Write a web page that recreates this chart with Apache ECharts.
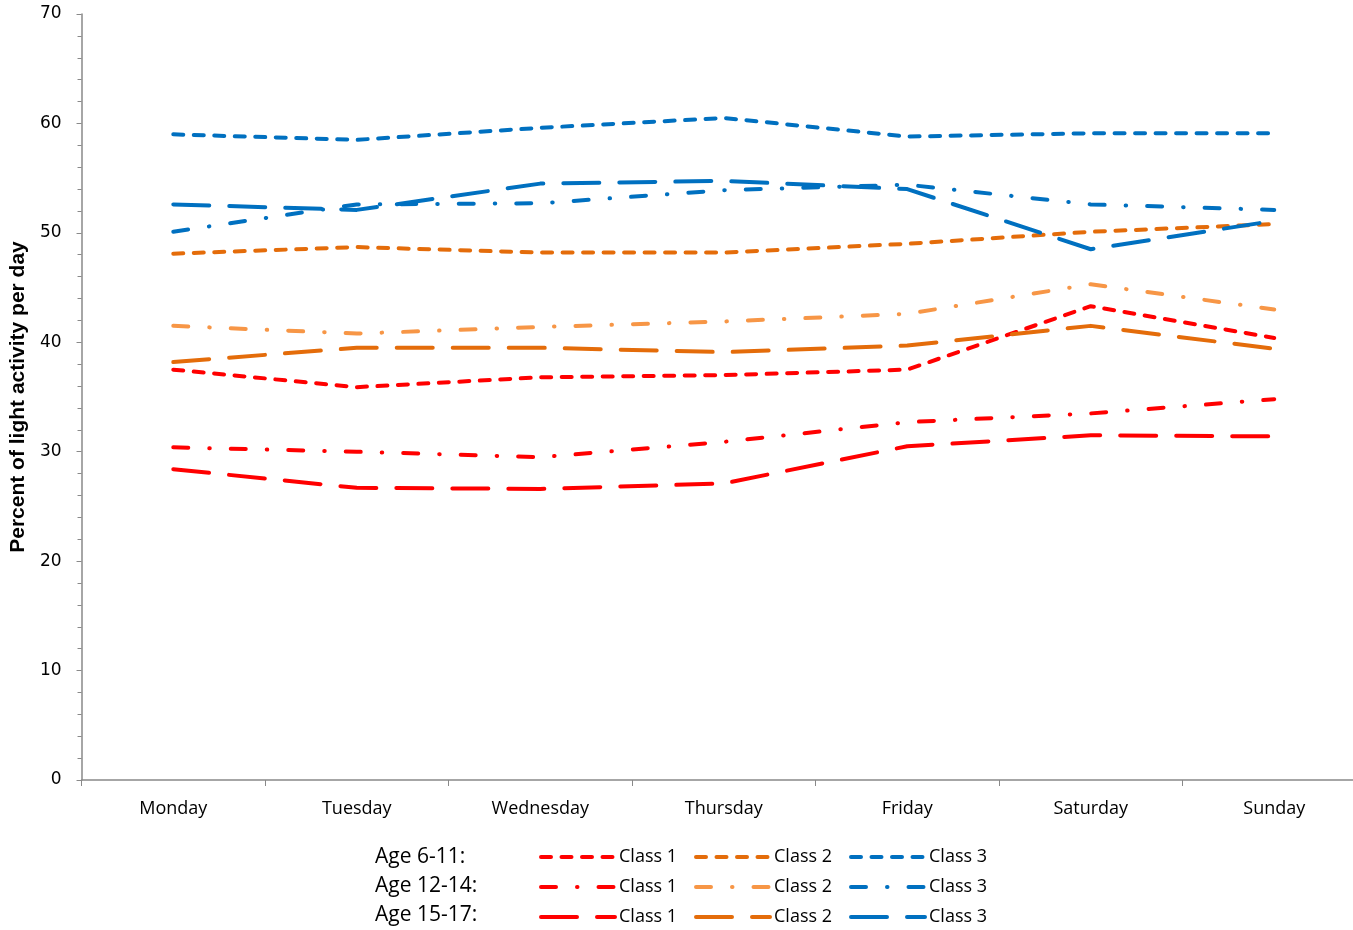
<!DOCTYPE html>
<html>
<head>
<meta charset="utf-8">
<script src="https://cdn.jsdelivr.net/npm/echarts@6/dist/echarts.min.js"></script>
<style>html,body{margin:0;padding:0;background:#fff;overflow:hidden;width:1353px;height:930px}#c{width:1366px;height:930px}</style>
</head>
<body>
<div id="c"></div>
<script>
var days = ['Monday','Tuesday','Wednesday','Thursday','Friday','Saturday','Sunday'];
var yTicks = [0,10,20,30,40,50,60,70];
var ageGroups = ['Age 6-11:','Age 12-14:','Age 15-17:'];
var classNames = ['Class 1','Class 2','Class 3'];

var age611_c1 = [37.5, 35.9, 36.8, 37.0, 37.5, 43.3, 40.4];
var age611_c2 = [48.1, 48.7, 48.2, 48.2, 49.0, 50.1, 50.8];
var age611_c3 = [59.0, 58.5, 59.6, 60.5, 58.8, 59.1, 59.1];
var age1214_c1 = [30.4, 30.0, 29.5, 30.9, 32.7, 33.5, 34.8];
var age1214_c2 = [41.5, 40.8, 41.4, 41.9, 42.6, 45.3, 43.0];
var age1214_c3 = [50.1, 52.6, 52.7, 53.9, 54.4, 52.6, 52.1];
var age1517_c1 = [28.4, 26.7, 26.6, 27.1, 30.5, 31.5, 31.4];
var age1517_c2 = [38.2, 39.5, 39.5, 39.1, 39.7, 41.5, 39.4];
var age1517_c3 = [52.6, 52.1, 54.5, 54.75, 54.0, 48.5, 51.1];

var RED = '#FF0000', ORANGE = '#E46C0A', LORANGE = '#F79646', BLUE = '#0070C0';
var SHORT = [10, 10.5], DASHDOT = [15, 21, 0.5, 21], LONG = [36, 20];

function mk(name, data, color, dash) {
  return {
    name: name, type: 'line', data: data, symbol: 'none', showSymbol: false, smooth: false,
    lineStyle: { color: color, width: 4, type: dash, cap: 'round', join: 'round' },
    itemStyle: { color: color },
    emphasis: { disabled: true }, animation: false
  };
}

var series = [
  mk('Age 6-11|Class 1', age611_c1, RED, SHORT),
  mk('Age 6-11|Class 2', age611_c2, ORANGE, SHORT),
  mk('Age 6-11|Class 3', age611_c3, BLUE, SHORT),
  mk('Age 12-14|Class 1', age1214_c1, RED, DASHDOT),
  mk('Age 12-14|Class 2', age1214_c2, LORANGE, DASHDOT),
  mk('Age 12-14|Class 3', age1214_c3, BLUE, DASHDOT),
  mk('Age 15-17|Class 1', age1517_c1, RED, LONG),
  mk('Age 15-17|Class 2', age1517_c2, ORANGE, LONG),
  mk('Age 15-17|Class 3', age1517_c3, BLUE, LONG)
];

function leg(col, left) {
  return {
    orient: 'vertical', left: left, top: 848, itemWidth: 74, itemHeight: 14, itemGap: 12,
    padding: 0, selectedMode: false,
    itemStyle: { opacity: 0, borderWidth: 0 },
    lineStyle: { width: 4, cap: 'round' },
    data: ['Age 6-11|' + classNames[col], 'Age 12-14|' + classNames[col], 'Age 15-17|' + classNames[col]],
    formatter: function (n) { return n.split('|')[1]; },
    textStyle: { fontFamily: 'Open Sans', fontSize: 18, color: '#000', padding: [0, 0, 0, -1] }
  };
}

var chart = echarts.init(document.getElementById('c'), null, { renderer: 'canvas', width: 1366, height: 930 });
chart.setOption({
  animation: false,
  backgroundColor: '#fff',
  grid: { left: 80, top: 14, right: 0, bottom: 150, containLabel: false },
  xAxis: {
    type: 'category', data: days, boundaryGap: true,
    axisLine: { lineStyle: { color: '#898989', width: 1.5 } },
    axisTick: { show: true, length: 6, lineStyle: { color: '#898989' } },
    axisLabel: { margin: 20, fontFamily: 'Open Sans', fontSize: 18, color: '#000' },
    splitLine: { show: false }
  },
  yAxis: {
    type: 'value', min: 0, max: 70, interval: 10,
    name: 'Percent of light activity per day', nameLocation: 'middle', nameGap: 49, nameRotate: 90,
    nameTextStyle: { fontFamily: 'Liberation Sans', fontWeight: 'bold', fontSize: 21, color: '#000' },
    axisLine: { show: true, lineStyle: { color: '#898989', width: 1.5 } },
    axisTick: { show: true, length: 5, lineStyle: { color: '#898989' } },
    minorTick: { show: true, splitNumber: 5, length: 4, lineStyle: { color: '#898989' } },
    axisLabel: { margin: 20, fontFamily: 'DejaVu Sans', fontSize: 17, color: '#000', padding: [3, 0, 0, 0],
      formatter: function (v) { return yTicks.indexOf(v) >= 0 ? String(v) : ''; } },
    splitLine: { show: false }
  },
  legend: [leg(0, 539), leg(1, 694), leg(2, 849)],
  graphic: ageGroups.map(function (t, i) {
    return { type: 'text', left: 375, top: 847 + i * 29,
      style: { text: t, fontFamily: 'Open Sans', fontSize: 21, fill: '#000' } };
  }),
  series: series
});
</script>
</body>
</html>
